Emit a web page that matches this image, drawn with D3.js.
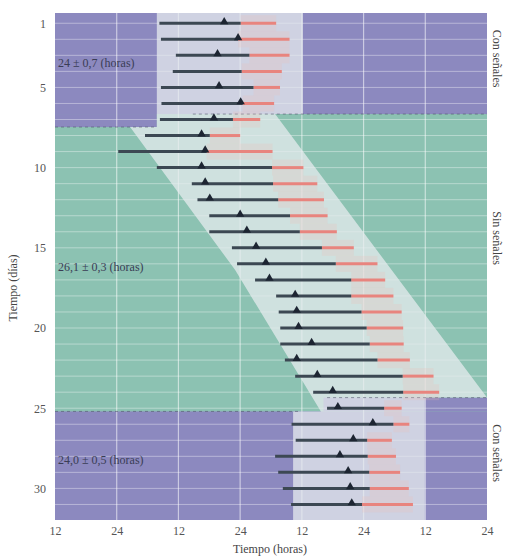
<!DOCTYPE html>
<html>
<head>
<meta charset="utf-8">
<script src="https://cdn.jsdelivr.net/npm/d3@7"></script>
<style>
  body { margin: 0; background: #fff; }
  svg text { font-family: "Liberation Serif", "DejaVu Serif", serif; }
</style>
</head>
<body>
<div id="chart"></div>
<script>
// dias del registro (una fila por dia)
var days = [1,2,3,4,5,6,7,8,9,10,11,12,13,14,15,16,17,18,19,20,21,22,23,24,25,26,27,28,29,30,31];
// inicio de actividad, marcador, fin de actividad (barra oscura), fin de reposo (barra roja), en horas
var actStart = [32.3,32.6,35.5,34.9,32.6,32.7,32.4,29.5,24.3,31.8,38.6,39.7,42.0,42.0,46.4,47.4,50.9,55.0,55.5,55.8,55.8,56.7,58.7,62.2,64.9,58.0,58.8,54.8,55.4,56.3,57.9];
var onset    = [44.9,47.6,43.6,null,43.9,48.1,42.9,40.5,41.2,40.5,41.2,42.1,48.0,49.3,51.1,53.0,53.7,58.7,59.0,59.35,61.9,59.0,63.0,66.0,67.0,73.8,70.0,67.4,69.0,69.4,69.7];
var actEnd   = [48.1,47.6,49.8,48.3,50.6,48.5,46.6,42.1,41.5,54.2,54.4,55.4,57.7,59.6,63.9,66.6,69.6,69.6,71.6,72.6,73.2,74.7,79.6,79.7,76.0,77.8,72.7,72.8,73.1,73.2,71.7];
var restEnd  = [55.0,57.6,57.6,56.1,55.75,54.6,51.9,48.0,54.3,60.3,63.0,64.3,65.0,66.8,70.1,74.7,76.2,77.8,79.4,79.7,79.8,81.0,85.6,86.7,79.4,80.9,77.5,78.3,79.1,80.8,81.6];

var xTicks = [12,24,36,48,60,72,84,96];
var xTickLabels = ["12","24","12","24","12","24","12","24"];
var yTicks = [1,5,10,15,20,25,30];
var periodLabels = ["24 ± 0,7 (horas)", "26,1 ± 0,3 (horas)", "24,0 ± 0,5 (horas)"];
var phaseLabels = ["Con señales", "Sin señales", "Con señales"];

var width = 506;
var height = 557;
var plotLeft = 55, plotRight = 487, plotTop = 13, plotBottom = 520;

var svg = d3.select("#chart")
    .append("svg")
    .attr("width", width)
    .attr("height", height);

var x = d3.scaleLinear().domain([12, 96]).range([plotLeft, plotRight]);
var y = d3.scaleLinear().domain([0.36, 31.97]).range([plotTop, plotBottom]);
var d0 = y.domain()[0], d1 = y.domain()[1];

var green = "#8cc2b2";
var purple = "#8c89bf";

function box(h0, h1, a, b) {
    return { x: x(h0), y: y(a), w: x(h1) - x(h0), h: y(b) - y(a) };
}

// fondo: sin senales
svg.append("rect")
    .attr("x", plotLeft).attr("y", plotTop)
    .attr("width", plotRight - plotLeft).attr("height", plotBottom - plotTop)
    .attr("fill", green);

// fondo: con senales (arriba y abajo)
var purpleBoxes = [
    box(12, 96, d0, 6.66),
    box(12, 31.8, 6.66, 7.47),
    box(12, 96, 25.2, d1),
    box(64.2, 96, 24.34, 25.2)
];
svg.selectAll("rect.purple")
    .data(purpleBoxes)
    .enter()
    .append("rect")
    .attr("class", "purple")
    .attr("x", function(d) { return d.x; })
    .attr("y", function(d) { return d.y; })
    .attr("width", function(d) { return d.w; })
    .attr("height", function(d) { return d.h; })
    .attr("fill", purple);

// rejilla
svg.selectAll("line.hgrid")
    .data(days)
    .enter()
    .append("line")
    .attr("class", "hgrid")
    .attr("x1", plotLeft).attr("x2", plotRight)
    .attr("y1", function(d) { return y(d); })
    .attr("y2", function(d) { return y(d); })
    .attr("stroke", "#fff")
    .attr("stroke-opacity", 0.38)
    .attr("stroke-width", 1);

svg.selectAll("line.vgrid")
    .data(xTicks.slice(1, -1))
    .enter()
    .append("line")
    .attr("class", "vgrid")
    .attr("x1", function(d) { return x(d); })
    .attr("x2", function(d) { return x(d); })
    .attr("y1", plotTop).attr("y2", plotBottom)
    .attr("stroke", "#fff")
    .attr("stroke-opacity", 0.55)
    .attr("stroke-width", 1.2);

// banda clara de actividad
var band = [
    [31.8, d0], [60.2, d0], [60.2, 6.66], [54.8, 6.66],
    [96, 24.34], [83.9, 24.34], [83.9, d1], [58.3, d1],
    [58.3, 25.2], [63.7, 25.2], [47.0, 16.37], [26.6, 7.47], [31.8, 7.47]
];
svg.append("path")
    .attr("d", d3.line().x(function(d) { return x(d[0]); }).y(function(d) { return y(d[1]); })(band) + "Z")
    .attr("fill", "#e6ebee")
    .attr("fill-opacity", 0.75);

// lineas discontinuas de cambio de condicion
var dashes = [[38.8, 96, 6.66], [12, 31.4, 7.47], [64.9, 96, 24.34], [12, 59.6, 25.2]];
svg.selectAll("line.dash")
    .data(dashes)
    .enter()
    .append("line")
    .attr("class", "dash")
    .attr("x1", function(d) { return x(d[0]); })
    .attr("x2", function(d) { return x(d[1]); })
    .attr("y1", function(d) { return y(d[2]); })
    .attr("y2", function(d) { return y(d[2]); })
    .attr("stroke", "#4a4f66")
    .attr("stroke-opacity", 0.55)
    .attr("stroke-dasharray", "3,3")
    .attr("stroke-width", 1);

// tono rosado detras del reposo
var rowH = y(2) - y(1);
svg.selectAll("rect.rest")
    .data(days)
    .enter()
    .append("rect")
    .attr("class", "rest")
    .attr("x", function(d, i) { return x(actEnd[i]); })
    .attr("y", function(d) { return y(d) - rowH / 2; })
    .attr("width", function(d, i) { return x(restEnd[i]) - x(actEnd[i]); })
    .attr("height", rowH)
    .attr("fill", "#f2b9b0")
    .attr("fill-opacity", 0.22);

// barras
svg.selectAll("line.rest")
    .data(days)
    .enter()
    .append("line")
    .attr("class", "rest")
    .attr("x1", function(d, i) { return x(actEnd[i]); })
    .attr("x2", function(d, i) { return x(restEnd[i]); })
    .attr("y1", function(d) { return y(d); })
    .attr("y2", function(d) { return y(d); })
    .attr("stroke", "#e8847e")
    .attr("stroke-width", 3);

svg.selectAll("line.act")
    .data(days)
    .enter()
    .append("line")
    .attr("class", "act")
    .attr("x1", function(d, i) { return x(actStart[i]); })
    .attr("x2", function(d, i) { return x(actEnd[i]); })
    .attr("y1", function(d) { return y(d); })
    .attr("y2", function(d) { return y(d); })
    .attr("stroke", "#3c4853")
    .attr("stroke-width", 3);

svg.selectAll("path.onset")
    .data(days.filter(function(d, i) { return onset[i] != null; }))
    .enter()
    .append("path")
    .attr("class", "onset")
    .attr("d", d3.symbol().type(d3.symbolTriangle).size(30))
    .attr("transform", function(d) { return "translate(" + x(onset[d - 1]) + "," + (y(d) - 1.5) + ")"; })
    .attr("fill", "#1d2532");

// ejes
var xAxis = svg.append("g")
    .attr("transform", "translate(0," + plotBottom + ")")
    .call(d3.axisBottom(x).tickValues(xTicks).tickSize(0).tickPadding(6)
        .tickFormat(function(d, i) { return xTickLabels[i]; }));
xAxis.select(".domain").remove();
xAxis.selectAll("text").attr("font-size", 12).attr("fill", "#555").style("font-family", "Liberation Serif, serif");

var yAxis = svg.append("g")
    .attr("transform", "translate(" + plotLeft + ",0)")
    .call(d3.axisLeft(y).tickValues(yTicks).tickSize(0).tickPadding(9));
yAxis.select(".domain").remove();
yAxis.selectAll("text").attr("font-size", 12).attr("fill", "#555").style("font-family", "Liberation Serif, serif");

svg.append("text")
    .attr("x", (plotLeft + plotRight) / 2 - 1)
    .attr("y", 553)
    .attr("text-anchor", "middle")
    .attr("font-size", 12)
    .attr("fill", "#444")
    .text("Tiempo (horas)");

svg.append("text")
    .attr("transform", "translate(17,288) rotate(-90)")
    .attr("text-anchor", "middle")
    .attr("font-size", 12)
    .attr("fill", "#444")
    .text("Tiempo (días)");

// periodos
var periodDays = [3.45, 16.2, 28.2];
svg.selectAll("text.period")
    .data(periodLabels)
    .enter()
    .append("text")
    .attr("class", "period")
    .attr("x", plotLeft + 3)
    .attr("y", function(d, i) { return y(periodDays[i]); })
    .attr("dy", "0.35em")
    .attr("font-size", 12)
    .attr("fill", "#3a3d55")
    .text(function(d) { return d; });

// condiciones
var phaseDays = [3.2, 14.4, 27.8];
svg.selectAll("text.phase")
    .data(phaseLabels)
    .enter()
    .append("text")
    .attr("class", "phase")
    .attr("transform", function(d, i) { return "translate(497," + y(phaseDays[i]) + ") rotate(90)"; })
    .attr("text-anchor", "middle")
    .attr("dy", "0.35em")
    .attr("font-size", 12)
    .attr("fill", "#444")
    .text(function(d) { return d; });
</script>
</body>
</html>
